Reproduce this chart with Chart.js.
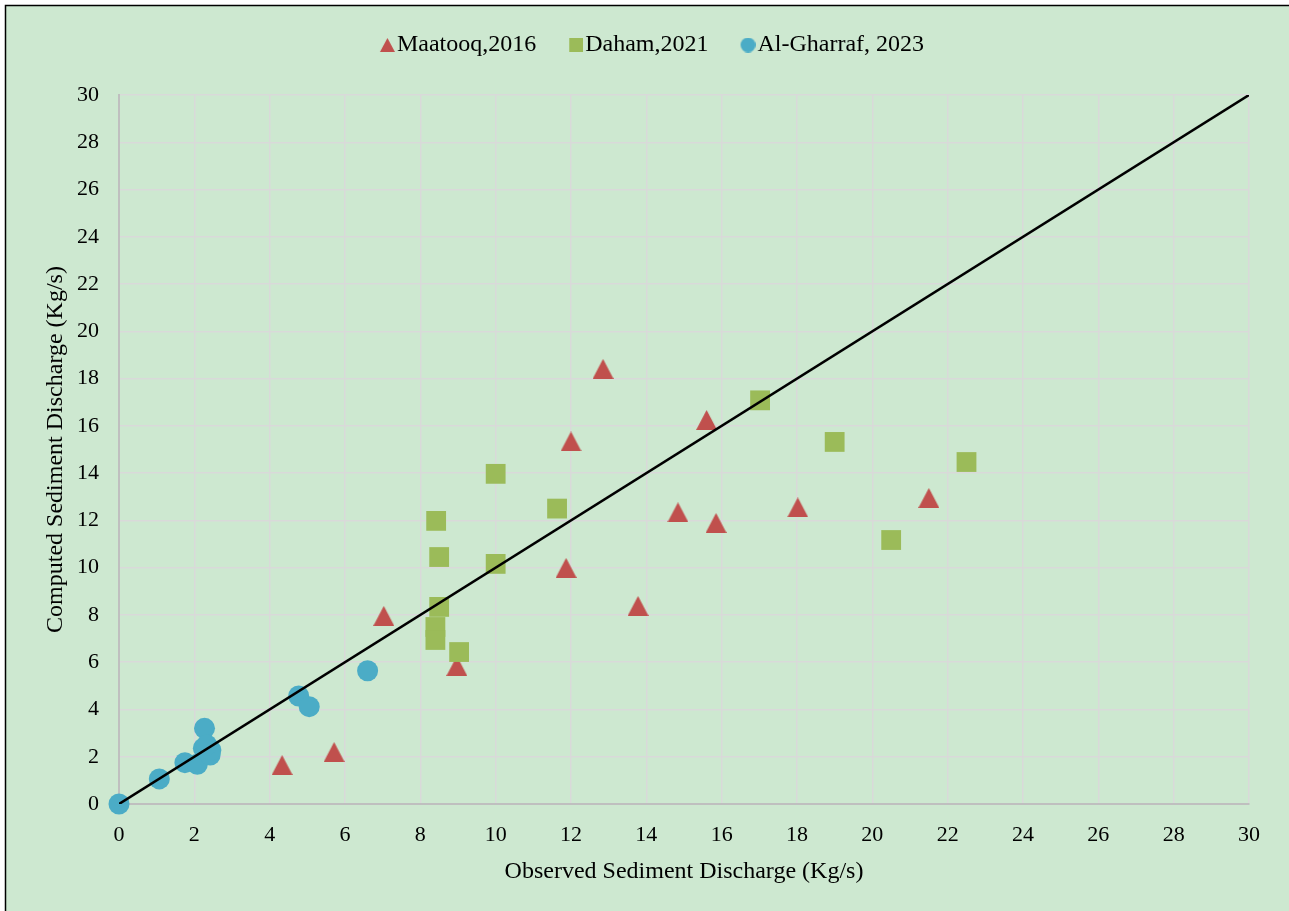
<!DOCTYPE html>
<html>
<head>
<meta charset="utf-8">
<script src="https://cdn.jsdelivr.net/npm/chart.js@4"></script>
<style>
  html, body { margin: 0; padding: 0; background: #fff; }
  #wrap { width: 1289px; height: 911px; position: relative; }
</style>
</head>
<body>
<div id="wrap"><canvas id="sedChart" width="1289" height="911"></canvas></div>
<script>
'use strict';

// --- data ---
const maatooqX = [4.33, 5.71, 7.03, 8.97, 11.87, 12.0, 12.85, 13.78, 14.84, 15.6, 15.85, 18.02, 21.5];
const maatooqY = [1.65, 2.2, 7.96, 5.84, 9.99, 15.34, 18.41, 8.38, 12.34, 16.25, 11.89, 12.55, 12.95];

const dahamX = [8.42, 8.5, 10.0, 10.0, 11.63, 8.5, 8.4, 8.4, 9.03, 17.02, 19.0, 20.5, 22.5];
const dahamY = [11.98, 10.45, 13.97, 10.16, 12.5, 8.34, 7.49, 6.94, 6.43, 17.08, 15.32, 11.17, 14.47];

const gharrafX = [0, 1.07, 1.75, 2.08, 2.27, 2.24, 2.42, 2.44, 2.33, 4.77, 5.05, 6.6];
const gharrafY = [0, 1.06, 1.75, 1.68, 3.2, 2.36, 2.07, 2.28, 2.5, 4.57, 4.12, 5.64];

const lineX = [0, 30];
const lineY = [0, 30];

const toPts = (xs, ys) => xs.map((x, i) => ({ x, y: ys[i] }));

const FONT = "'Liberation Serif', 'Times New Roman', serif";
const RED = '#c0504d', GREEN = '#9bbb59', BLUE = '#4bacc6';

// small canvas markers (Excel-style triangle is not equilateral)
// off = transparent space on the left so the legend icon sits close to its text
function makeIcon(shape, color, w, h, off = 0) {
  const cv = document.createElement('canvas');
  cv.width = w + off; cv.height = h;
  const c = cv.getContext('2d');
  c.fillStyle = color;
  c.beginPath();
  if (shape === 'tri') {
    c.moveTo(off, h); c.lineTo(off + w / 2, 0); c.lineTo(off + w, h); c.closePath();
  } else if (shape === 'sq') {
    c.rect(off, 0, w, h);
  } else {
    c.arc(off + w / 2, h / 2, w / 2, 0, Math.PI * 2);
  }
  c.fill();
  return cv;
}
const triMark = makeIcon('tri', RED, 21, 20);
const legendIcons = [
  makeIcon('tri', RED, 15, 14, 6),
  makeIcon('sq', GREEN, 14, 14, 7),
  makeIcon('circ', BLUE, 15, 15, 6),
];

// background + frame like the original export
const bgPlugin = {
  id: 'bgFrame',
  beforeDraw(chart) {
    const c = chart.ctx;
    c.save();
    c.fillStyle = '#ffffff';
    c.fillRect(0, 0, chart.width, chart.height);
    c.fillStyle = '#cde8d0';
    c.fillRect(6, 6, chart.width, chart.height);
    c.strokeStyle = '#000';
    c.lineWidth = 1.5;
    c.beginPath();
    c.moveTo(5.5, chart.height);
    c.lineTo(5.5, 5.5);
    c.lineTo(chart.width, 5.5);
    c.stroke();
    c.restore();
  },
};

// fixed legend block height so the plot starts where it should,
// and nudge the legend row like the original
const legendGap = {
  id: 'legendGap',
  beforeInit(chart) {
    const fit = chart.legend.fit;
    chart.legend.fit = function () {
      fit.bind(chart.legend)();
      this.height = 95;
    };
  },
  afterLayout(chart) {
    chart.legend.left += 9;
    chart.legend.right += 9;
    chart.legend.top -= 3;
    chart.legend.bottom -= 3;
  },
};

new Chart(document.getElementById('sedChart').getContext('2d'), {
  type: 'scatter',
  data: {
    datasets: [
      {
        label: 'Maatooq,2016',
        data: toPts(maatooqX, maatooqY),
        pointStyle: triMark,
        pointRadius: 10,
        backgroundColor: RED,
        borderColor: RED,
        order: 3,
      },
      {
        label: 'Daham,2021',
        data: toPts(dahamX, dahamY),
        pointStyle: 'rect',
        pointRadius: 14,
        pointHoverRadius: 14,
        backgroundColor: GREEN,
        borderColor: GREEN,
        borderWidth: 0,
        order: 2,
      },
      {
        label: 'Al-Gharraf, 2023',
        data: toPts(gharrafX, gharrafY),
        pointStyle: 'circle',
        pointRadius: 10.5,
        pointHoverRadius: 10.5,
        backgroundColor: BLUE,
        borderColor: BLUE,
        borderWidth: 0,
        clip: false,
        order: 1,
      },
      {
        label: '1:1',
        data: toPts(lineX, lineY),
        showLine: true,
        pointRadius: 0,
        borderColor: '#000',
        borderWidth: 2.5,
        fill: false,
        order: 0,
      },
    ],
  },
  options: {
    responsive: false,
    animation: false,
    layout: { padding: { top: 0, right: 40, bottom: 25, left: 41 } },
    plugins: {
      legend: {
        position: 'top',
        labels: {
          usePointStyle: true,
          pointStyleWidth: 1,
          boxHeight: 15,
          padding: 36,
          color: '#000',
          font: { family: FONT, size: 24 },
          filter: item => item.text !== '1:1',
          sort: (a, b) => a.datasetIndex - b.datasetIndex,
          generateLabels(chart) {
            const items = Chart.defaults.plugins.legend.labels.generateLabels(chart);
            items.forEach(it => {
              if (legendIcons[it.datasetIndex]) it.pointStyle = legendIcons[it.datasetIndex];
            });
            return items;
          },
        },
      },
      tooltip: { enabled: false },
    },
    scales: {
      x: {
        type: 'linear',
        min: 0,
        max: 30,
        afterFit(scale) { scale.height = 82; },
        ticks: { stepSize: 2, padding: 18, color: '#000', font: { family: FONT, size: 22 } },
        grid: { color: '#d9d9d9', lineWidth: 1.5, drawTicks: false },
        border: { color: '#bfbfbf', width: 2 },
        title: {
          display: true,
          text: 'Observed Sediment Discharge (Kg/s)',
          color: '#000',
          font: { family: FONT, size: 24 },
          padding: { top: 0, bottom: 0 },
        },
      },
      y: {
        type: 'linear',
        min: 0,
        max: 30,
        afterFit(scale) { scale.width = 78; },
        ticks: { stepSize: 2, padding: 20, color: '#000', font: { family: FONT, size: 22 } },
        grid: { color: '#d9d9d9', lineWidth: 1.5, drawTicks: false },
        border: { color: '#bfbfbf', width: 2 },
        title: {
          display: true,
          text: 'Computed Sediment Discharge (Kg/s)',
          color: '#000',
          font: { family: FONT, size: 24 },
          padding: { top: 0, bottom: 0 },
        },
      },
    },
  },
  plugins: [bgPlugin, legendGap],
});
</script>
</body>
</html>
